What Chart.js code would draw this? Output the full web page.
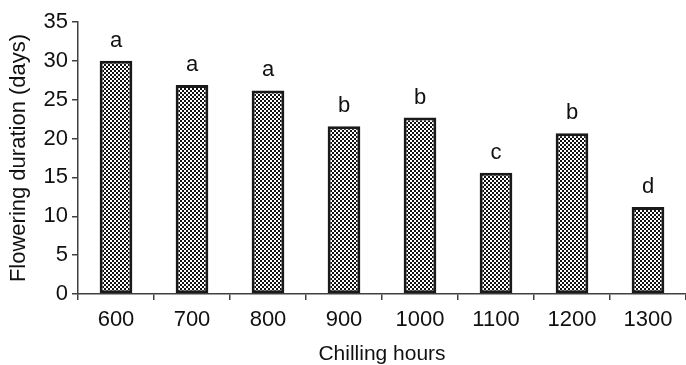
<!DOCTYPE html>
<html>
<head>
<meta charset="utf-8">
<script src="https://cdn.jsdelivr.net/npm/chart.js@4"></script>
<style>
  html, body { margin: 0; padding: 0; background: #fff; }
</style>
</head>
<body>
<canvas id="chart" width="686" height="365"></canvas>
<script>
  // datos
  const hours = ['600', '700', '800', '900', '1000', '1100', '1200', '1300']
  const duration = [30.0, 26.9, 26.2, 21.6, 22.7, 15.6, 20.7, 11.2]
  const letters = ['a', 'a', 'a', 'b', 'b', 'c', 'b', 'd']
  const yTicks = [0, 5, 10, 15, 20, 25, 30, 35]

  const FONT = '"Liberation Sans", Arial, sans-serif'
  const AXIS = '#404040'

  // relleno cuadriculado
  function checker() {
    const c = document.createElement('canvas')
    c.width = 4
    c.height = 4
    const g = c.getContext('2d')
    g.fillStyle = '#ffffff'
    g.fillRect(0, 0, 4, 4)
    g.fillStyle = '#111111'
    g.fillRect(0, 0, 2, 2)
    g.fillRect(2, 2, 2, 2)
    return g.createPattern(c, 'repeat')
  }

  // letras encima de las barras
  const letterPlugin = {
    id: 'letters',
    afterDatasetsDraw(chart) {
      const ctx = chart.ctx
      const meta = chart.getDatasetMeta(0)
      ctx.save()
      ctx.font = '22px ' + FONT
      ctx.fillStyle = '#111'
      ctx.textAlign = 'center'
      ctx.textBaseline = 'alphabetic'
      meta.data.forEach((bar, i) => {
        ctx.fillText(letters[i], bar.x, bar.y - 14)
      })
      ctx.restore()
    }
  }

  new Chart(document.getElementById('chart'), {
    type: 'bar',
    data: {
      labels: hours,
      datasets: [{
        data: duration,
        backgroundColor: checker(),
        borderColor: '#1a1a1a',
        borderWidth: 3,
        borderSkipped: false,
        categoryPercentage: 1,
        barPercentage: 0.43
      }]
    },
    plugins: [letterPlugin],
    options: {
      responsive: false,
      animation: false,
      devicePixelRatio: 1,
      layout: { padding: { top: 22, right: 0, left: 0, bottom: 0 } },
      plugins: {
        legend: { display: false },
        tooltip: { enabled: false }
      },
      scales: {
        x: {
          offset: true,
          grid: {
            offset: true,
            drawOnChartArea: false,
            drawTicks: true,
            tickLength: 6,
            color: AXIS,
            lineWidth: 1.5
          },
          border: { display: true, color: AXIS, width: 1.5 },
          ticks: {
            color: '#111',
            padding: 7,
            maxRotation: 0,
            font: { family: FONT, size: 22 }
          },
          title: {
            display: true,
            text: 'Chilling hours',
            color: '#111',
            padding: { top: 0, bottom: -2 },
            font: { family: FONT, size: 21 }
          },
          afterFit(scale) { scale.height = 71 }
        },
        y: {
          min: 0,
          max: 35,
          afterBuildTicks(scale) {
            scale.ticks = yTicks.map(v => ({ value: v }))
          },
          grid: {
            drawOnChartArea: false,
            drawTicks: true,
            tickLength: 6,
            color: AXIS,
            lineWidth: 1.5
          },
          border: { display: true, color: AXIS, width: 1.5 },
          ticks: {
            color: '#111',
            padding: 4,
            font: { family: FONT, size: 22 }
          },
          title: {
            display: true,
            text: 'Flowering duration (days)',
            color: '#111',
            padding: { top: 6, bottom: 0 },
            font: { family: FONT, size: 22 }
          },
          afterFit(scale) { scale.width = 78 }
        }
      }
    }
  })
</script>
</body>
</html>
